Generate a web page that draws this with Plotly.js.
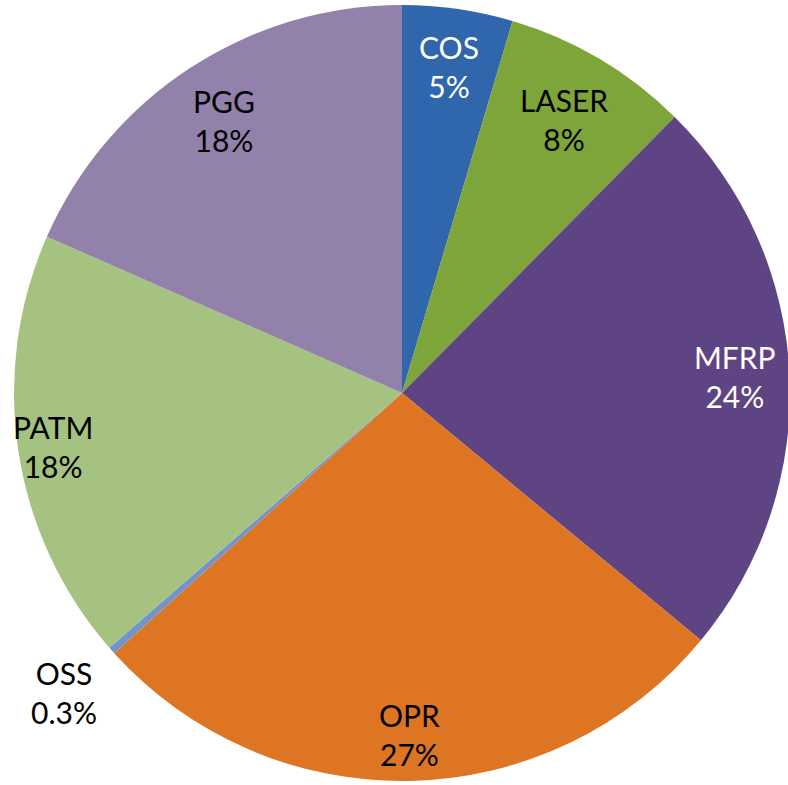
<!DOCTYPE html>
<html>
<head>
<meta charset="utf-8">
<script src="https://cdn.plot.ly/plotly-3.0.1.min.js"></script>
<style>
  html, body { margin: 0; padding: 0; background: #ffffff; overflow: hidden; }
  #chart { width: 804px; height: 786px; }
</style>
</head>
<body>
<div id="chart"></div>
<script>
// ---- data ----
const labels = ['COS', 'LASER', 'MFRP', 'OPR', 'OSS', 'PATM', 'PGG'];
const values = [4.6, 7.8, 23.6, 27.3, 0.3, 18.0, 18.4];
const colors = ['#2f66ac', '#7ea53a', '#5f4484', '#dd7522', '#7294c8', '#a6c281', '#9181ab'];
const textColors = ['#ffffff', '#000000', '#ffffff', '#000000', '#000000', '#000000', '#000000'];

// ---- geometry / style ----
const W = 804, H = 786;
const CX = 402, CY = 393, R = 388;
const labelRadius = [0.85, 0.82, 0.86, 0.88, 1.165, 0.91, 0.84]; // label distance, fraction of radius
const FONT = 'Lato, "Open Sans", "DejaVu Sans", sans-serif';

function pctLabel(v, total) {
  const p = v / total * 100;
  return (p < 1 ? p.toFixed(1) : Math.round(p).toString()) + '%';
}

const total = values.reduce((a, b) => a + b, 0);
const annotations = [];
let cum = 0;
values.forEach((v, i) => {
  const mid = (cum + v / 2) / total * 2 * Math.PI;
  cum += v;
  const f = labelRadius[i];
  const px = CX + f * R * Math.sin(mid);
  const py = CY - f * R * Math.cos(mid);
  annotations.push({
    xref: 'paper', yref: 'paper',
    x: px / W, y: 1 - py / H,
    xanchor: 'center', yanchor: 'middle',
    text: labels[i] + '<br>' + pctLabel(v, total),
    showarrow: false, align: 'center',
    font: { family: FONT, size: 30, color: textColors[i] }
  });
});

const trace = {
  type: 'pie',
  labels: labels,
  values: values,
  sort: false,
  direction: 'clockwise',
  rotation: 0,
  textinfo: 'none',
  hoverinfo: 'label+percent',
  marker: { colors: colors, line: { width: 0 } },
  domain: { x: [0, 1], y: [(CY - R) / H, (CY + R) / H] }
};

const layout = {
  width: W, height: H,
  margin: { l: 0, r: 0, t: 0, b: 0 },
  showlegend: false,
  paper_bgcolor: '#ffffff',
  plot_bgcolor: '#ffffff',
  annotations: annotations
};

Plotly.newPlot('chart', [trace], layout, { displayModeBar: false, staticPlot: true });
</script>
</body>
</html>
